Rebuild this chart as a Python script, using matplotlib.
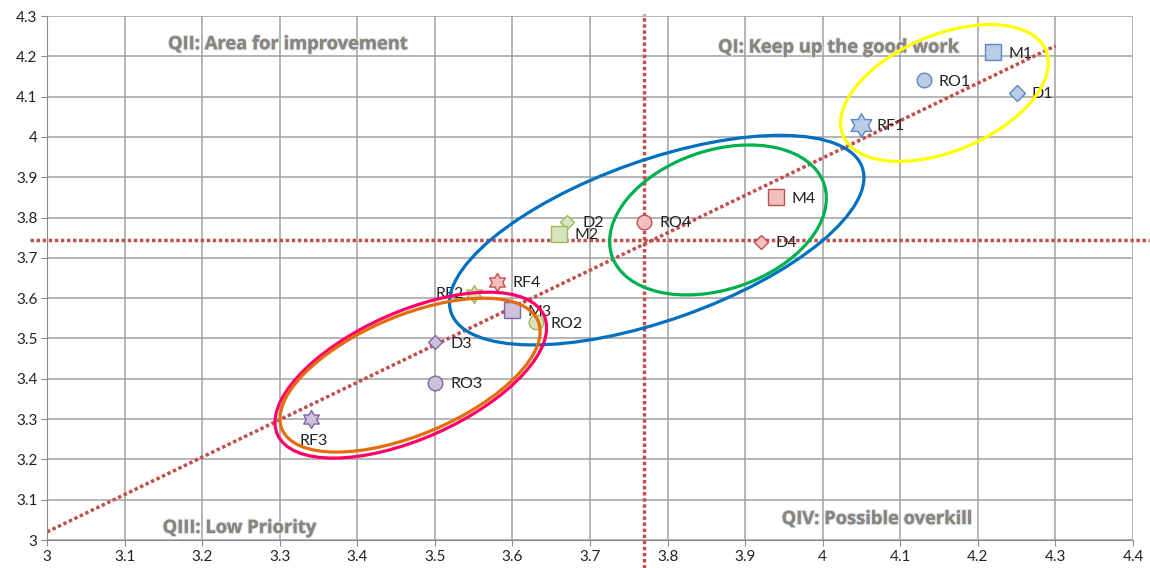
import numpy as np
import matplotlib
matplotlib.use("Agg")
import matplotlib.pyplot as plt
from matplotlib.patches import Ellipse
from matplotlib.path import Path
from matplotlib.transforms import ScaledTranslation
import matplotlib.patheffects as pe

# ---------------- data ----------------
labels = ['M1', 'RO1', 'D1', 'RF1',
          'D2', 'M2', 'RF2', 'RO2',
          'M3', 'D3', 'RO3', 'RF3',
          'M4', 'RO4', 'D4', 'RF4']
x_vals = [4.22, 4.13, 4.25, 4.05,
          3.67, 3.66, 3.55, 3.63,
          3.60, 3.50, 3.50, 3.34,
          3.94, 3.77, 3.92, 3.58]
y_vals = [4.21, 4.14, 4.11, 4.03,
          3.79, 3.76, 3.61, 3.54,
          3.57, 3.49, 3.39, 3.30,
          3.85, 3.79, 3.74, 3.64]
groups = [1, 1, 1, 1, 2, 2, 2, 2, 3, 3, 3, 3, 4, 4, 4, 4]

x_ticks = [3, 3.1, 3.2, 3.3, 3.4, 3.5, 3.6, 3.7, 3.8, 3.9, 4, 4.1, 4.2, 4.3, 4.4]
y_ticks = [3, 3.1, 3.2, 3.3, 3.4, 3.5, 3.6, 3.7, 3.8, 3.9, 4, 4.1, 4.2, 4.3]

x_mid = 3.77
y_mid = 3.745
trend_x = [3.0, 4.3]
trend_y = [3.02, 4.226]

quadrant_texts = ['QII: Area for improvement', 'QI: Keep up the good work',
                  'QIII: Low Priority', 'QIV: Possible overkill']
quadrant_x = [3.156, 3.865, 3.149, 3.947]
quadrant_y = [4.230, 4.222, 3.030, 3.052]

# ellipses: center (data), semi-axes (pixels), angle (deg), colour
ell_cx = [4.157, 3.786, 3.865, 3.469, 3.468]
ell_cy = [4.109, 3.744, 3.794, 3.409, 3.409]
ell_a = [110, 218, 112, 146, 139]
ell_b = [58, 80, 69.5, 63.4, 59.4]
ell_ang = [22.8, 19.5, 18.7, 24.0, 22.9]
ell_col = ['#FFFF00', '#0070C0', '#00B050', '#FF0066', '#E46C0A']

# ---------------- style ----------------
face = {1: '#B9CDE5', 2: '#D7E4BD', 3: '#CCC1DA', 4: '#F2C0BF'}
edge = {1: '#5B87C4', 2: '#9BBB59', 3: '#8064A2', 4: '#C0504D'}

# hexagram marker
ang = np.deg2rad(90 + 30 * np.arange(12))
rad = np.where(np.arange(12) % 2 == 0, 1.0, 1 / np.sqrt(3))
hex_verts = np.column_stack([rad * np.cos(ang), rad * np.sin(ang)])
hex_verts = np.vstack([hex_verts, hex_verts[0]])
hexagram = Path(hex_verts, closed=True)

plt.rcParams['font.family'] = ['Lato', 'DejaVu Sans']

fig = plt.figure(figsize=(11.5, 5.68), dpi=100)
ax = fig.add_axes([47 / 1150, 28 / 568, (1133 - 47) / 1150, (540 - 16) / 568])
ax.set_xlim(3, 4.4)
ax.set_ylim(3, 4.3)
ax.set_xticks(x_ticks)
ax.set_yticks(y_ticks)
ax.set_xticklabels([f'{v:g}' for v in x_ticks])
ax.set_yticklabels([f'{v:g}' for v in y_ticks])
ax.grid(True, color='#A0A0A0', linewidth=1.1)
ax.set_axisbelow(True)
for s in ax.spines.values():
    s.set_visible(False)
ax.spines['left'].set_visible(True)
ax.spines['bottom'].set_visible(True)
ax.spines['left'].set_color('#8C8C8C')
ax.spines['bottom'].set_color('#8C8C8C')
ax.tick_params(axis='both', direction='out', length=4, color='#8C8C8C',
               labelsize=11, labelcolor='#222222', pad=3)

dot_col = '#C0504D'
dot_ls = (0, (1, 0.75))
ax.plot([x_mid, x_mid], [2.93, 4.305], color=dot_col, lw=2.5, ls=dot_ls,
        clip_on=False, zorder=2, dash_capstyle='butt')
ax.plot([2.978, 4.42], [y_mid, y_mid], color=dot_col, lw=2.5, ls=dot_ls,
        clip_on=False, zorder=2, dash_capstyle='butt')
ax.plot(trend_x, trend_y, color=dot_col, lw=2.5, ls=dot_ls, zorder=2,
        dash_capstyle='butt')

for lab, x, y, g in zip(labels, x_vals, y_vals, groups):
    if lab.startswith('RO'):
        mk, ms = 'o', 10.5
    elif lab.startswith('RF'):
        mk, ms = hexagram, (17 if lab == 'RF1' else 13)
    elif lab.startswith('M'):
        mk, ms = 's', 11.5
    else:
        mk, ms = 'D', (8.2 if lab == 'D1' else 7.2)
    ax.plot([x], [y], marker=mk, ms=ms, mfc=face[g], mec=edge[g], mew=1.0,
            ls='none', zorder=4)
    if lab == 'RF2':
        off, ha, va = (-7, 0), 'right', 'center'
    elif lab == 'RF3':
        off, ha, va = (2, -11), 'center', 'top'
    else:
        off, ha, va = (11, -1), 'left', 'center'
    ax.annotate(lab, (x, y), xytext=off, textcoords='offset points',
                ha=ha, va=va, fontsize=11.5, color='#222222', zorder=5)

for t, x, y in zip(quadrant_texts, quadrant_x, quadrant_y):
    ax.text(x, y, t, fontsize=13.2, fontweight='bold', color='#8F8577',
            family=['Open Sans', 'DejaVu Sans'],
            ha='left', va='center', zorder=5,
            path_effects=[pe.withStroke(linewidth=1.6, foreground='#D5E2F2'),
                          pe.Normal()])

for cx, cy, a, b, an, c in zip(ell_cx, ell_cy, ell_a, ell_b, ell_ang, ell_col):
    tr = fig.dpi_scale_trans + ScaledTranslation(cx, cy, ax.transData)
    e = Ellipse((0, 0), 2 * a / 100, 2 * b / 100, angle=an, transform=tr,
                fill=False, edgecolor=c, lw=2.3, zorder=6, clip_on=False)
    ax.add_patch(e)

fig.savefig('out.png', dpi=100)
